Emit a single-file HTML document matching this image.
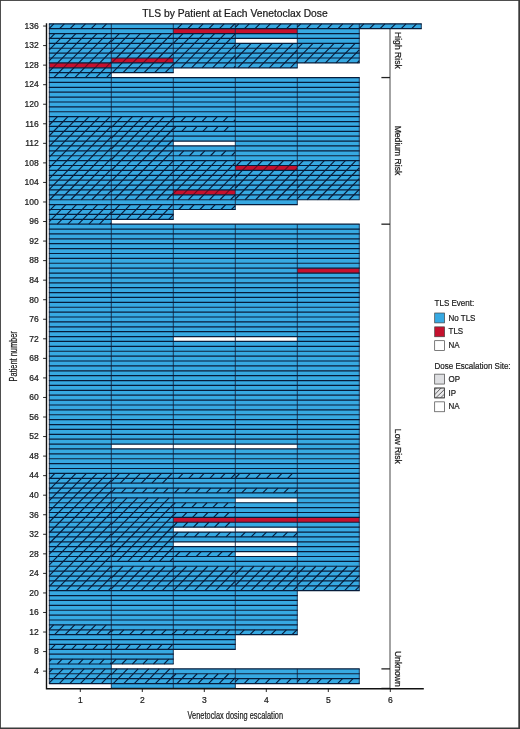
<!DOCTYPE html>
<html lang="en"><head><meta charset="utf-8"><title>TLS by Patient at Each Venetoclax Dose</title>
<style>html,body{margin:0;padding:0;background:#fff}body{width:520px;height:729px;overflow:hidden}svg{display:block}</style>
</head><body>
<svg width="520" height="729" viewBox="0 0 520 729" font-family="'Liberation Sans', Arial, sans-serif" fill="#1a1a1a">
<style>text{stroke:#1a1a1a;stroke-width:0.22px}</style>
<defs>
<pattern id="hl" patternUnits="userSpaceOnUse" width="4.6" height="4.6" x="1.2" y="0"><path d="M-1,5.6 L5.6,-1 M-1,1 L1,-1 M3.6,5.6 L5.6,3.6" stroke="#3a3a3a" stroke-width="0.8" fill="none"/></pattern>
</defs>
<rect x="0" y="0" width="520" height="729" fill="#fff"/>
<g stroke="#858585" stroke-width="1.5" fill="none">
<path d="M390,23.8 V688.43"/>
<path stroke="#222" stroke-width="1.3" d="M381.4,77.56 H390"/>
<path stroke="#222" stroke-width="1.3" d="M381.4,224.17 H390"/>
<path stroke="#222" stroke-width="1.3" d="M381.4,668.88 H390"/>
<path stroke="#222" stroke-width="1.3" d="M381.4,688.43 H390"/>
</g>
<g fill="#37a9e2">
<rect x="49.3" y="23.8" width="62" height="4.89"/>
<rect x="49.3" y="28.69" width="62" height="4.89"/>
<rect x="49.3" y="33.57" width="62" height="4.89"/>
<rect x="49.3" y="38.46" width="62" height="4.89"/>
<rect x="49.3" y="43.35" width="62" height="4.89"/>
<rect x="49.3" y="48.23" width="62" height="4.89"/>
<rect x="49.3" y="53.12" width="62" height="4.89"/>
<rect x="49.3" y="58.01" width="62" height="4.89"/>
<rect x="49.3" y="67.78" width="62" height="4.89"/>
<rect x="49.3" y="72.67" width="62" height="4.89"/>
<rect x="49.3" y="77.56" width="62" height="4.89"/>
<rect x="49.3" y="82.44" width="62" height="4.89"/>
<rect x="49.3" y="87.33" width="62" height="4.89"/>
<rect x="49.3" y="92.22" width="62" height="4.89"/>
<rect x="49.3" y="97.1" width="62" height="4.89"/>
<rect x="49.3" y="101.99" width="62" height="4.89"/>
<rect x="49.3" y="106.88" width="62" height="4.89"/>
<rect x="49.3" y="111.77" width="62" height="4.89"/>
<rect x="49.3" y="116.65" width="62" height="4.89"/>
<rect x="49.3" y="121.54" width="62" height="4.89"/>
<rect x="49.3" y="126.43" width="62" height="4.89"/>
<rect x="49.3" y="131.31" width="62" height="4.89"/>
<rect x="49.3" y="136.2" width="62" height="4.89"/>
<rect x="49.3" y="141.09" width="62" height="4.89"/>
<rect x="49.3" y="145.97" width="62" height="4.89"/>
<rect x="49.3" y="150.86" width="62" height="4.89"/>
<rect x="49.3" y="155.75" width="62" height="4.89"/>
<rect x="49.3" y="160.64" width="62" height="4.89"/>
<rect x="49.3" y="165.52" width="62" height="4.89"/>
<rect x="49.3" y="170.41" width="62" height="4.89"/>
<rect x="49.3" y="175.3" width="62" height="4.89"/>
<rect x="49.3" y="180.18" width="62" height="4.89"/>
<rect x="49.3" y="185.07" width="62" height="4.89"/>
<rect x="49.3" y="189.96" width="62" height="4.89"/>
<rect x="49.3" y="194.84" width="62" height="4.89"/>
<rect x="49.3" y="199.73" width="62" height="4.89"/>
<rect x="49.3" y="204.62" width="62" height="4.89"/>
<rect x="49.3" y="209.51" width="62" height="4.89"/>
<rect x="49.3" y="214.39" width="62" height="4.89"/>
<rect x="49.3" y="219.28" width="62" height="4.89"/>
<rect x="49.3" y="224.17" width="62" height="4.89"/>
<rect x="49.3" y="229.05" width="62" height="4.89"/>
<rect x="49.3" y="233.94" width="62" height="4.89"/>
<rect x="49.3" y="238.83" width="62" height="4.89"/>
<rect x="49.3" y="243.72" width="62" height="4.89"/>
<rect x="49.3" y="248.6" width="62" height="4.89"/>
<rect x="49.3" y="253.49" width="62" height="4.89"/>
<rect x="49.3" y="258.38" width="62" height="4.89"/>
<rect x="49.3" y="263.26" width="62" height="4.89"/>
<rect x="49.3" y="268.15" width="62" height="4.89"/>
<rect x="49.3" y="273.04" width="62" height="4.89"/>
<rect x="49.3" y="277.92" width="62" height="4.89"/>
<rect x="49.3" y="282.81" width="62" height="4.89"/>
<rect x="49.3" y="287.7" width="62" height="4.89"/>
<rect x="49.3" y="292.58" width="62" height="4.89"/>
<rect x="49.3" y="297.47" width="62" height="4.89"/>
<rect x="49.3" y="302.36" width="62" height="4.89"/>
<rect x="49.3" y="307.25" width="62" height="4.89"/>
<rect x="49.3" y="312.13" width="62" height="4.89"/>
<rect x="49.3" y="317.02" width="62" height="4.89"/>
<rect x="49.3" y="321.91" width="62" height="4.89"/>
<rect x="49.3" y="326.79" width="62" height="4.89"/>
<rect x="49.3" y="331.68" width="62" height="4.89"/>
<rect x="49.3" y="336.57" width="62" height="4.89"/>
<rect x="49.3" y="341.45" width="62" height="4.89"/>
<rect x="49.3" y="346.34" width="62" height="4.89"/>
<rect x="49.3" y="351.23" width="62" height="4.89"/>
<rect x="49.3" y="356.12" width="62" height="4.89"/>
<rect x="49.3" y="361" width="62" height="4.89"/>
<rect x="49.3" y="365.89" width="62" height="4.89"/>
<rect x="49.3" y="370.78" width="62" height="4.89"/>
<rect x="49.3" y="375.66" width="62" height="4.89"/>
<rect x="49.3" y="380.55" width="62" height="4.89"/>
<rect x="49.3" y="385.44" width="62" height="4.89"/>
<rect x="49.3" y="390.32" width="62" height="4.89"/>
<rect x="49.3" y="395.21" width="62" height="4.89"/>
<rect x="49.3" y="400.1" width="62" height="4.89"/>
<rect x="49.3" y="404.99" width="62" height="4.89"/>
<rect x="49.3" y="409.87" width="62" height="4.89"/>
<rect x="49.3" y="414.76" width="62" height="4.89"/>
<rect x="49.3" y="419.65" width="62" height="4.89"/>
<rect x="49.3" y="424.53" width="62" height="4.89"/>
<rect x="49.3" y="429.42" width="62" height="4.89"/>
<rect x="49.3" y="434.31" width="62" height="4.89"/>
<rect x="49.3" y="439.19" width="62" height="4.89"/>
<rect x="49.3" y="444.08" width="62" height="4.89"/>
<rect x="49.3" y="448.97" width="62" height="4.89"/>
<rect x="49.3" y="453.86" width="62" height="4.89"/>
<rect x="49.3" y="458.74" width="62" height="4.89"/>
<rect x="49.3" y="463.63" width="62" height="4.89"/>
<rect x="49.3" y="468.52" width="62" height="4.89"/>
<rect x="49.3" y="473.4" width="62" height="4.89"/>
<rect x="49.3" y="478.29" width="62" height="4.89"/>
<rect x="49.3" y="483.18" width="62" height="4.89"/>
<rect x="49.3" y="488.06" width="62" height="4.89"/>
<rect x="49.3" y="492.95" width="62" height="4.89"/>
<rect x="49.3" y="497.84" width="62" height="4.89"/>
<rect x="49.3" y="502.73" width="62" height="4.89"/>
<rect x="49.3" y="507.61" width="62" height="4.89"/>
<rect x="49.3" y="512.5" width="62" height="4.89"/>
<rect x="49.3" y="517.39" width="62" height="4.89"/>
<rect x="49.3" y="522.27" width="62" height="4.89"/>
<rect x="49.3" y="527.16" width="62" height="4.89"/>
<rect x="49.3" y="532.05" width="62" height="4.89"/>
<rect x="49.3" y="536.93" width="62" height="4.89"/>
<rect x="49.3" y="541.82" width="62" height="4.89"/>
<rect x="49.3" y="546.71" width="62" height="4.89"/>
<rect x="49.3" y="551.6" width="62" height="4.89"/>
<rect x="49.3" y="556.48" width="62" height="4.89"/>
<rect x="49.3" y="561.37" width="62" height="4.89"/>
<rect x="49.3" y="566.26" width="62" height="4.89"/>
<rect x="49.3" y="571.14" width="62" height="4.89"/>
<rect x="49.3" y="576.03" width="62" height="4.89"/>
<rect x="49.3" y="580.92" width="62" height="4.89"/>
<rect x="49.3" y="585.8" width="62" height="4.89"/>
<rect x="49.3" y="590.69" width="62" height="4.89"/>
<rect x="49.3" y="595.58" width="62" height="4.89"/>
<rect x="49.3" y="600.47" width="62" height="4.89"/>
<rect x="49.3" y="605.35" width="62" height="4.89"/>
<rect x="49.3" y="610.24" width="62" height="4.89"/>
<rect x="49.3" y="615.13" width="62" height="4.89"/>
<rect x="49.3" y="620.01" width="62" height="4.89"/>
<rect x="49.3" y="624.9" width="62" height="4.89"/>
<rect x="49.3" y="629.79" width="62" height="4.89"/>
<rect x="49.3" y="634.67" width="62" height="4.89"/>
<rect x="49.3" y="639.56" width="62" height="4.89"/>
<rect x="49.3" y="644.45" width="62" height="4.89"/>
<rect x="49.3" y="649.34" width="62" height="4.89"/>
<rect x="49.3" y="654.22" width="62" height="4.89"/>
<rect x="49.3" y="659.11" width="62" height="4.89"/>
<rect x="49.3" y="664" width="62" height="4.89"/>
<rect x="49.3" y="668.88" width="62" height="4.89"/>
<rect x="49.3" y="673.77" width="62" height="4.89"/>
<rect x="49.3" y="678.66" width="62" height="4.89"/>
</g>
<g fill="#c5112e">
<rect x="49.3" y="62.9" width="62" height="4.89"/>
</g>
<path d="M53.85,23.8L49.3,28.44M64.38,23.8L59.59,28.69M74.91,23.8L70.12,28.69M85.44,23.8L80.65,28.69M95.97,23.8L91.18,28.69M106.5,23.8L101.71,28.69M54.79,33.57L49.3,39.17M65.32,33.57L49.3,49.9M75.85,33.57L49.3,60.63M86.38,33.57L57.61,62.9M96.91,33.57L68.14,62.9M107.44,33.57L78.67,62.9M111.3,40.37L89.2,62.9M111.3,51.1L99.73,62.9M111.3,61.83L110.26,62.9M52.81,67.78L49.3,71.36M63.34,67.78L53.75,77.56M73.87,67.78L64.28,77.56M84.4,67.78L74.81,77.56M94.93,67.78L85.34,77.56M105.46,67.78L95.87,77.56M111.3,72.56L106.4,77.56M57.5,116.65L49.3,125.01M68.03,116.65L49.3,135.74M78.56,116.65L49.3,146.47M89.09,116.65L49.3,157.2M99.62,116.65L49.3,167.93M110.15,116.65L49.3,178.66M111.3,126.21L49.3,189.39M111.3,136.94L49.68,199.73M111.3,147.67L60.21,199.73M111.3,158.4L70.74,199.73M111.3,169.13L81.27,199.73M111.3,179.86L91.8,199.73M111.3,190.59L102.33,199.73M55.41,204.62L49.3,210.85M65.94,204.62L49.3,221.58M76.47,204.62L57.29,224.17M87,204.62L67.82,224.17M97.53,204.62L78.35,224.17M108.06,204.62L88.88,224.17M111.3,212.05L99.41,224.17M111.3,222.78L109.94,224.17M54.89,473.4L49.3,479.1M65.42,473.4L49.3,489.83M75.95,473.4L49.3,500.56M86.48,473.4L49.3,511.29M97.01,473.4L49.3,522.02M107.54,473.4L49.3,532.75M111.3,480.3L49.3,543.48M111.3,491.03L49.3,554.21M111.3,501.76L49.3,564.94M111.3,512.49L49.3,575.67M111.3,523.22L49.3,586.4M111.3,533.95L55.62,590.69M111.3,544.68L66.15,590.69M111.3,555.41L76.68,590.69M111.3,566.14L87.21,590.69M111.3,576.87L97.74,590.69M111.3,587.6L108.27,590.69M53.64,624.9L49.3,629.32M64.17,624.9L54.57,634.67M74.7,624.9L65.1,634.67M85.23,624.9L75.63,634.67M95.76,624.9L86.16,634.67M106.29,624.9L96.69,634.67M111.3,630.52L107.22,634.67M55.51,644.45L50.72,649.34M66.04,644.45L61.25,649.34M76.57,644.45L71.78,649.34M87.1,644.45L82.31,649.34M97.63,644.45L92.84,649.34M108.16,644.45L103.37,649.34M51.66,659.11L49.3,661.51M62.19,659.11L57.39,664M72.72,659.11L67.92,664M83.25,659.11L78.45,664M93.78,659.11L88.98,664M104.31,659.11L99.51,664M111.3,662.71L110.04,664M52.59,668.88L49.3,672.24M63.12,668.88L49.3,682.97M73.65,668.88L59.27,683.54M84.18,668.88L69.8,683.54M94.71,668.88L80.33,683.54M105.24,668.88L90.86,683.54M111.3,673.44L101.39,683.54" stroke="#061c3b" stroke-width="1.15" fill="none"/>
<path d="M57.61,62.9L52.81,67.78M68.14,62.9L63.34,67.78M78.67,62.9L73.87,67.78M89.2,62.9L84.4,67.78M99.73,62.9L94.93,67.78M110.26,62.9L105.46,67.78" stroke="#700a20" stroke-width="1.15" fill="none"/>
<g fill="#37a9e2">
<rect x="111.3" y="23.8" width="62" height="4.89"/>
<rect x="111.3" y="28.69" width="62" height="4.89"/>
<rect x="111.3" y="33.57" width="62" height="4.89"/>
<rect x="111.3" y="38.46" width="62" height="4.89"/>
<rect x="111.3" y="43.35" width="62" height="4.89"/>
<rect x="111.3" y="48.23" width="62" height="4.89"/>
<rect x="111.3" y="53.12" width="62" height="4.89"/>
<rect x="111.3" y="62.9" width="62" height="4.89"/>
<rect x="111.3" y="67.78" width="62" height="4.89"/>
<rect x="111.3" y="77.56" width="62" height="4.89"/>
<rect x="111.3" y="82.44" width="62" height="4.89"/>
<rect x="111.3" y="87.33" width="62" height="4.89"/>
<rect x="111.3" y="92.22" width="62" height="4.89"/>
<rect x="111.3" y="97.1" width="62" height="4.89"/>
<rect x="111.3" y="101.99" width="62" height="4.89"/>
<rect x="111.3" y="106.88" width="62" height="4.89"/>
<rect x="111.3" y="111.77" width="62" height="4.89"/>
<rect x="111.3" y="116.65" width="62" height="4.89"/>
<rect x="111.3" y="121.54" width="62" height="4.89"/>
<rect x="111.3" y="126.43" width="62" height="4.89"/>
<rect x="111.3" y="131.31" width="62" height="4.89"/>
<rect x="111.3" y="136.2" width="62" height="4.89"/>
<rect x="111.3" y="141.09" width="62" height="4.89"/>
<rect x="111.3" y="145.97" width="62" height="4.89"/>
<rect x="111.3" y="150.86" width="62" height="4.89"/>
<rect x="111.3" y="155.75" width="62" height="4.89"/>
<rect x="111.3" y="160.64" width="62" height="4.89"/>
<rect x="111.3" y="165.52" width="62" height="4.89"/>
<rect x="111.3" y="170.41" width="62" height="4.89"/>
<rect x="111.3" y="175.3" width="62" height="4.89"/>
<rect x="111.3" y="180.18" width="62" height="4.89"/>
<rect x="111.3" y="185.07" width="62" height="4.89"/>
<rect x="111.3" y="189.96" width="62" height="4.89"/>
<rect x="111.3" y="194.84" width="62" height="4.89"/>
<rect x="111.3" y="199.73" width="62" height="4.89"/>
<rect x="111.3" y="204.62" width="62" height="4.89"/>
<rect x="111.3" y="209.51" width="62" height="4.89"/>
<rect x="111.3" y="214.39" width="62" height="4.89"/>
<rect x="111.3" y="224.17" width="62" height="4.89"/>
<rect x="111.3" y="229.05" width="62" height="4.89"/>
<rect x="111.3" y="233.94" width="62" height="4.89"/>
<rect x="111.3" y="238.83" width="62" height="4.89"/>
<rect x="111.3" y="243.72" width="62" height="4.89"/>
<rect x="111.3" y="248.6" width="62" height="4.89"/>
<rect x="111.3" y="253.49" width="62" height="4.89"/>
<rect x="111.3" y="258.38" width="62" height="4.89"/>
<rect x="111.3" y="263.26" width="62" height="4.89"/>
<rect x="111.3" y="268.15" width="62" height="4.89"/>
<rect x="111.3" y="273.04" width="62" height="4.89"/>
<rect x="111.3" y="277.92" width="62" height="4.89"/>
<rect x="111.3" y="282.81" width="62" height="4.89"/>
<rect x="111.3" y="287.7" width="62" height="4.89"/>
<rect x="111.3" y="292.58" width="62" height="4.89"/>
<rect x="111.3" y="297.47" width="62" height="4.89"/>
<rect x="111.3" y="302.36" width="62" height="4.89"/>
<rect x="111.3" y="307.25" width="62" height="4.89"/>
<rect x="111.3" y="312.13" width="62" height="4.89"/>
<rect x="111.3" y="317.02" width="62" height="4.89"/>
<rect x="111.3" y="321.91" width="62" height="4.89"/>
<rect x="111.3" y="326.79" width="62" height="4.89"/>
<rect x="111.3" y="331.68" width="62" height="4.89"/>
<rect x="111.3" y="336.57" width="62" height="4.89"/>
<rect x="111.3" y="341.45" width="62" height="4.89"/>
<rect x="111.3" y="346.34" width="62" height="4.89"/>
<rect x="111.3" y="351.23" width="62" height="4.89"/>
<rect x="111.3" y="356.12" width="62" height="4.89"/>
<rect x="111.3" y="361" width="62" height="4.89"/>
<rect x="111.3" y="365.89" width="62" height="4.89"/>
<rect x="111.3" y="370.78" width="62" height="4.89"/>
<rect x="111.3" y="375.66" width="62" height="4.89"/>
<rect x="111.3" y="380.55" width="62" height="4.89"/>
<rect x="111.3" y="385.44" width="62" height="4.89"/>
<rect x="111.3" y="390.32" width="62" height="4.89"/>
<rect x="111.3" y="395.21" width="62" height="4.89"/>
<rect x="111.3" y="400.1" width="62" height="4.89"/>
<rect x="111.3" y="404.99" width="62" height="4.89"/>
<rect x="111.3" y="409.87" width="62" height="4.89"/>
<rect x="111.3" y="414.76" width="62" height="4.89"/>
<rect x="111.3" y="419.65" width="62" height="4.89"/>
<rect x="111.3" y="424.53" width="62" height="4.89"/>
<rect x="111.3" y="429.42" width="62" height="4.89"/>
<rect x="111.3" y="434.31" width="62" height="4.89"/>
<rect x="111.3" y="439.19" width="62" height="4.89"/>
<rect x="111.3" y="448.97" width="62" height="4.89"/>
<rect x="111.3" y="453.86" width="62" height="4.89"/>
<rect x="111.3" y="458.74" width="62" height="4.89"/>
<rect x="111.3" y="463.63" width="62" height="4.89"/>
<rect x="111.3" y="468.52" width="62" height="4.89"/>
<rect x="111.3" y="473.4" width="62" height="4.89"/>
<rect x="111.3" y="478.29" width="62" height="4.89"/>
<rect x="111.3" y="483.18" width="62" height="4.89"/>
<rect x="111.3" y="488.06" width="62" height="4.89"/>
<rect x="111.3" y="492.95" width="62" height="4.89"/>
<rect x="111.3" y="497.84" width="62" height="4.89"/>
<rect x="111.3" y="502.73" width="62" height="4.89"/>
<rect x="111.3" y="507.61" width="62" height="4.89"/>
<rect x="111.3" y="512.5" width="62" height="4.89"/>
<rect x="111.3" y="517.39" width="62" height="4.89"/>
<rect x="111.3" y="522.27" width="62" height="4.89"/>
<rect x="111.3" y="527.16" width="62" height="4.89"/>
<rect x="111.3" y="532.05" width="62" height="4.89"/>
<rect x="111.3" y="536.93" width="62" height="4.89"/>
<rect x="111.3" y="541.82" width="62" height="4.89"/>
<rect x="111.3" y="546.71" width="62" height="4.89"/>
<rect x="111.3" y="551.6" width="62" height="4.89"/>
<rect x="111.3" y="556.48" width="62" height="4.89"/>
<rect x="111.3" y="561.37" width="62" height="4.89"/>
<rect x="111.3" y="566.26" width="62" height="4.89"/>
<rect x="111.3" y="571.14" width="62" height="4.89"/>
<rect x="111.3" y="576.03" width="62" height="4.89"/>
<rect x="111.3" y="580.92" width="62" height="4.89"/>
<rect x="111.3" y="585.8" width="62" height="4.89"/>
<rect x="111.3" y="590.69" width="62" height="4.89"/>
<rect x="111.3" y="595.58" width="62" height="4.89"/>
<rect x="111.3" y="600.47" width="62" height="4.89"/>
<rect x="111.3" y="605.35" width="62" height="4.89"/>
<rect x="111.3" y="610.24" width="62" height="4.89"/>
<rect x="111.3" y="615.13" width="62" height="4.89"/>
<rect x="111.3" y="620.01" width="62" height="4.89"/>
<rect x="111.3" y="624.9" width="62" height="4.89"/>
<rect x="111.3" y="629.79" width="62" height="4.89"/>
<rect x="111.3" y="634.67" width="62" height="4.89"/>
<rect x="111.3" y="639.56" width="62" height="4.89"/>
<rect x="111.3" y="644.45" width="62" height="4.89"/>
<rect x="111.3" y="649.34" width="62" height="4.89"/>
<rect x="111.3" y="654.22" width="62" height="4.89"/>
<rect x="111.3" y="659.11" width="62" height="4.89"/>
<rect x="111.3" y="668.88" width="62" height="4.89"/>
<rect x="111.3" y="673.77" width="62" height="4.89"/>
<rect x="111.3" y="678.66" width="62" height="4.89"/>
<rect x="111.3" y="683.54" width="62" height="4.89"/>
</g>
<g fill="#c5112e">
<rect x="111.3" y="58.01" width="62" height="4.89"/>
</g>
<path d="M119.29,33.57L111.3,41.72M129.82,33.57L111.3,52.45M140.35,33.57L116.37,58.01M150.88,33.57L126.9,58.01M161.41,33.57L137.43,58.01M171.94,33.57L147.96,58.01M173.3,42.92L158.49,58.01M173.3,53.65L169.02,58.01M111.58,62.9L111.3,63.18M122.11,62.9L112.51,72.67M132.64,62.9L123.04,72.67M143.17,62.9L133.57,72.67M153.7,62.9L144.1,72.67M164.23,62.9L154.63,72.67M173.3,64.38L165.16,72.67M111.47,116.65L111.3,116.83M122,116.65L111.3,127.56M132.53,116.65L111.3,138.29M143.06,116.65L111.3,149.02M153.59,116.65L111.3,159.75M164.12,116.65L111.3,170.48M173.3,118.03L111.3,181.21M173.3,128.76L111.3,191.94M173.3,139.49L114.18,199.73M173.3,150.22L124.71,199.73M173.3,160.95L135.24,199.73M173.3,171.68L145.77,199.73M173.3,182.41L156.3,199.73M173.3,193.14L166.83,199.73M119.91,204.62L111.3,213.4M130.44,204.62L116.06,219.28M140.97,204.62L126.59,219.28M151.5,204.62L137.12,219.28M162.03,204.62L147.65,219.28M172.56,204.62L158.18,219.28M173.3,214.6L168.71,219.28M119.39,473.4L111.3,481.65M129.92,473.4L120.33,483.18M140.45,473.4L130.86,483.18M150.98,473.4L141.39,483.18M161.51,473.4L151.92,483.18M172.04,473.4L162.45,483.18M173.3,482.85L172.98,483.18M115.53,488.06L111.3,492.38M126.06,488.06L121.27,492.95M136.59,488.06L131.8,492.95M147.12,488.06L142.33,492.95M157.65,488.06L152.86,492.95M168.18,488.06L163.39,492.95M116.47,497.84L111.3,503.11M127,497.84L111.3,513.84M137.53,497.84L111.3,524.57M148.06,497.84L111.3,535.3M158.59,497.84L111.3,546.03M169.12,497.84L111.3,556.76M173.3,504.31L117.3,561.37M173.3,515.04L127.83,561.37M173.3,525.77L138.36,561.37M173.3,536.5L148.89,561.37M173.3,547.23L159.42,561.37M173.3,557.96L169.95,561.37M112.51,566.26L111.3,567.49M123.04,566.26L111.3,578.22M133.57,566.26L111.3,588.95M144.1,566.26L120.12,590.69M154.63,566.26L130.65,590.69M165.16,566.26L141.18,590.69M173.3,568.69L151.71,590.69M173.3,579.42L162.24,590.69M173.3,590.15L172.77,590.69M113.34,629.79L111.3,631.87M123.87,629.79L119.07,634.67M134.4,629.79L129.6,634.67M144.93,629.79L140.13,634.67M155.46,629.79L150.66,634.67M165.99,629.79L161.19,634.67M173.3,633.07L171.72,634.67M120.01,644.45L115.22,649.34M130.54,644.45L125.75,649.34M141.07,644.45L136.28,649.34M151.6,644.45L146.81,649.34M162.13,644.45L157.34,649.34M172.66,644.45L167.87,649.34M116.16,659.11L111.36,664M126.69,659.11L121.89,664M137.22,659.11L132.42,664M147.75,659.11L142.95,664M158.28,659.11L153.48,664M168.81,659.11L164.01,664M117.09,668.88L111.3,674.79M127.62,668.88L113.24,683.54M138.15,668.88L123.77,683.54M148.68,668.88L134.3,683.54M159.21,668.88L144.83,683.54M169.74,668.88L155.36,683.54M173.3,675.99L165.89,683.54" stroke="#061c3b" stroke-width="1.15" fill="none"/>
<path d="M116.37,58.01L111.58,62.9M126.9,58.01L122.11,62.9M137.43,58.01L132.64,62.9M147.96,58.01L143.17,62.9M158.49,58.01L153.7,62.9M169.02,58.01L164.23,62.9" stroke="#700a20" stroke-width="1.15" fill="none"/>
<g fill="#37a9e2">
<rect x="173.3" y="23.8" width="62" height="4.89"/>
<rect x="173.3" y="33.57" width="62" height="4.89"/>
<rect x="173.3" y="38.46" width="62" height="4.89"/>
<rect x="173.3" y="43.35" width="62" height="4.89"/>
<rect x="173.3" y="48.23" width="62" height="4.89"/>
<rect x="173.3" y="53.12" width="62" height="4.89"/>
<rect x="173.3" y="58.01" width="62" height="4.89"/>
<rect x="173.3" y="62.9" width="62" height="4.89"/>
<rect x="173.3" y="77.56" width="62" height="4.89"/>
<rect x="173.3" y="82.44" width="62" height="4.89"/>
<rect x="173.3" y="87.33" width="62" height="4.89"/>
<rect x="173.3" y="92.22" width="62" height="4.89"/>
<rect x="173.3" y="97.1" width="62" height="4.89"/>
<rect x="173.3" y="101.99" width="62" height="4.89"/>
<rect x="173.3" y="106.88" width="62" height="4.89"/>
<rect x="173.3" y="111.77" width="62" height="4.89"/>
<rect x="173.3" y="116.65" width="62" height="4.89"/>
<rect x="173.3" y="121.54" width="62" height="4.89"/>
<rect x="173.3" y="126.43" width="62" height="4.89"/>
<rect x="173.3" y="131.31" width="62" height="4.89"/>
<rect x="173.3" y="136.2" width="62" height="4.89"/>
<rect x="173.3" y="145.97" width="62" height="4.89"/>
<rect x="173.3" y="150.86" width="62" height="4.89"/>
<rect x="173.3" y="155.75" width="62" height="4.89"/>
<rect x="173.3" y="160.64" width="62" height="4.89"/>
<rect x="173.3" y="165.52" width="62" height="4.89"/>
<rect x="173.3" y="170.41" width="62" height="4.89"/>
<rect x="173.3" y="175.3" width="62" height="4.89"/>
<rect x="173.3" y="180.18" width="62" height="4.89"/>
<rect x="173.3" y="185.07" width="62" height="4.89"/>
<rect x="173.3" y="194.84" width="62" height="4.89"/>
<rect x="173.3" y="199.73" width="62" height="4.89"/>
<rect x="173.3" y="204.62" width="62" height="4.89"/>
<rect x="173.3" y="224.17" width="62" height="4.89"/>
<rect x="173.3" y="229.05" width="62" height="4.89"/>
<rect x="173.3" y="233.94" width="62" height="4.89"/>
<rect x="173.3" y="238.83" width="62" height="4.89"/>
<rect x="173.3" y="243.72" width="62" height="4.89"/>
<rect x="173.3" y="248.6" width="62" height="4.89"/>
<rect x="173.3" y="253.49" width="62" height="4.89"/>
<rect x="173.3" y="258.38" width="62" height="4.89"/>
<rect x="173.3" y="263.26" width="62" height="4.89"/>
<rect x="173.3" y="268.15" width="62" height="4.89"/>
<rect x="173.3" y="273.04" width="62" height="4.89"/>
<rect x="173.3" y="277.92" width="62" height="4.89"/>
<rect x="173.3" y="282.81" width="62" height="4.89"/>
<rect x="173.3" y="287.7" width="62" height="4.89"/>
<rect x="173.3" y="292.58" width="62" height="4.89"/>
<rect x="173.3" y="297.47" width="62" height="4.89"/>
<rect x="173.3" y="302.36" width="62" height="4.89"/>
<rect x="173.3" y="307.25" width="62" height="4.89"/>
<rect x="173.3" y="312.13" width="62" height="4.89"/>
<rect x="173.3" y="317.02" width="62" height="4.89"/>
<rect x="173.3" y="321.91" width="62" height="4.89"/>
<rect x="173.3" y="326.79" width="62" height="4.89"/>
<rect x="173.3" y="331.68" width="62" height="4.89"/>
<rect x="173.3" y="341.45" width="62" height="4.89"/>
<rect x="173.3" y="346.34" width="62" height="4.89"/>
<rect x="173.3" y="351.23" width="62" height="4.89"/>
<rect x="173.3" y="356.12" width="62" height="4.89"/>
<rect x="173.3" y="361" width="62" height="4.89"/>
<rect x="173.3" y="365.89" width="62" height="4.89"/>
<rect x="173.3" y="370.78" width="62" height="4.89"/>
<rect x="173.3" y="375.66" width="62" height="4.89"/>
<rect x="173.3" y="380.55" width="62" height="4.89"/>
<rect x="173.3" y="385.44" width="62" height="4.89"/>
<rect x="173.3" y="390.32" width="62" height="4.89"/>
<rect x="173.3" y="395.21" width="62" height="4.89"/>
<rect x="173.3" y="400.1" width="62" height="4.89"/>
<rect x="173.3" y="404.99" width="62" height="4.89"/>
<rect x="173.3" y="409.87" width="62" height="4.89"/>
<rect x="173.3" y="414.76" width="62" height="4.89"/>
<rect x="173.3" y="419.65" width="62" height="4.89"/>
<rect x="173.3" y="424.53" width="62" height="4.89"/>
<rect x="173.3" y="429.42" width="62" height="4.89"/>
<rect x="173.3" y="434.31" width="62" height="4.89"/>
<rect x="173.3" y="439.19" width="62" height="4.89"/>
<rect x="173.3" y="448.97" width="62" height="4.89"/>
<rect x="173.3" y="453.86" width="62" height="4.89"/>
<rect x="173.3" y="458.74" width="62" height="4.89"/>
<rect x="173.3" y="463.63" width="62" height="4.89"/>
<rect x="173.3" y="468.52" width="62" height="4.89"/>
<rect x="173.3" y="473.4" width="62" height="4.89"/>
<rect x="173.3" y="478.29" width="62" height="4.89"/>
<rect x="173.3" y="483.18" width="62" height="4.89"/>
<rect x="173.3" y="488.06" width="62" height="4.89"/>
<rect x="173.3" y="492.95" width="62" height="4.89"/>
<rect x="173.3" y="497.84" width="62" height="4.89"/>
<rect x="173.3" y="502.73" width="62" height="4.89"/>
<rect x="173.3" y="507.61" width="62" height="4.89"/>
<rect x="173.3" y="512.5" width="62" height="4.89"/>
<rect x="173.3" y="522.27" width="62" height="4.89"/>
<rect x="173.3" y="532.05" width="62" height="4.89"/>
<rect x="173.3" y="536.93" width="62" height="4.89"/>
<rect x="173.3" y="546.71" width="62" height="4.89"/>
<rect x="173.3" y="551.6" width="62" height="4.89"/>
<rect x="173.3" y="556.48" width="62" height="4.89"/>
<rect x="173.3" y="561.37" width="62" height="4.89"/>
<rect x="173.3" y="566.26" width="62" height="4.89"/>
<rect x="173.3" y="571.14" width="62" height="4.89"/>
<rect x="173.3" y="576.03" width="62" height="4.89"/>
<rect x="173.3" y="580.92" width="62" height="4.89"/>
<rect x="173.3" y="585.8" width="62" height="4.89"/>
<rect x="173.3" y="590.69" width="62" height="4.89"/>
<rect x="173.3" y="595.58" width="62" height="4.89"/>
<rect x="173.3" y="600.47" width="62" height="4.89"/>
<rect x="173.3" y="605.35" width="62" height="4.89"/>
<rect x="173.3" y="610.24" width="62" height="4.89"/>
<rect x="173.3" y="615.13" width="62" height="4.89"/>
<rect x="173.3" y="620.01" width="62" height="4.89"/>
<rect x="173.3" y="624.9" width="62" height="4.89"/>
<rect x="173.3" y="629.79" width="62" height="4.89"/>
<rect x="173.3" y="634.67" width="62" height="4.89"/>
<rect x="173.3" y="639.56" width="62" height="4.89"/>
<rect x="173.3" y="644.45" width="62" height="4.89"/>
<rect x="173.3" y="668.88" width="62" height="4.89"/>
<rect x="173.3" y="673.77" width="62" height="4.89"/>
<rect x="173.3" y="678.66" width="62" height="4.89"/>
<rect x="173.3" y="683.54" width="62" height="4.89"/>
</g>
<g fill="#c5112e">
<rect x="173.3" y="28.69" width="62" height="4.89"/>
<rect x="173.3" y="189.96" width="62" height="4.89"/>
<rect x="173.3" y="517.39" width="62" height="4.89"/>
</g>
<path d="M182.05,23.8L177.26,28.69M192.58,23.8L187.79,28.69M203.11,23.8L198.32,28.69M213.64,23.8L208.85,28.69M224.17,23.8L219.38,28.69M234.7,23.8L229.91,28.69M182.99,33.57L173.3,43.45M193.52,33.57L173.3,54.18M204.05,33.57L173.3,64.91M214.58,33.57L181.01,67.78M225.11,33.57L191.54,67.78M235.3,33.92L202.07,67.78M235.3,44.65L212.6,67.78M235.3,55.38L223.13,67.78M235.3,66.11L233.66,67.78M175.17,116.65L173.3,118.56M185.7,116.65L180.91,121.54M196.23,116.65L191.44,121.54M206.76,116.65L201.97,121.54M217.29,116.65L212.5,121.54M227.82,116.65L223.03,121.54M235.3,119.76L233.56,121.54M176.11,126.43L173.3,129.29M186.64,126.43L181.84,131.31M197.17,126.43L192.37,131.31M207.7,126.43L202.9,131.31M218.23,126.43L213.43,131.31M228.76,126.43L223.96,131.31M235.3,130.49L234.49,131.31M183.72,150.86L178.92,155.75M194.25,150.86L189.45,155.75M204.78,150.86L199.98,155.75M215.31,150.86L210.51,155.75M225.84,150.86L221.04,155.75M235.3,151.95L231.57,155.75M174.13,160.64L173.3,161.48M184.66,160.64L173.3,172.21M195.19,160.64L173.3,182.94M205.72,160.64L176.94,189.96M216.25,160.64L187.47,189.96M226.78,160.64L198,189.96M235.3,162.68L208.53,189.96M235.3,173.41L219.06,189.96M235.3,184.14L229.59,189.96M182.68,194.84L177.88,199.73M193.21,194.84L188.41,199.73M203.74,194.84L198.94,199.73M214.27,194.84L209.47,199.73M224.8,194.84L220,199.73M235.3,194.87L230.53,199.73M183.61,204.62L178.82,209.51M194.14,204.62L189.35,209.51M204.67,204.62L199.88,209.51M215.2,204.62L210.41,209.51M225.73,204.62L220.94,209.51M235.3,205.6L231.47,209.51M183.09,473.4L178.29,478.29M193.62,473.4L188.82,478.29M204.15,473.4L199.35,478.29M214.68,473.4L209.88,478.29M225.21,473.4L220.41,478.29M235.3,473.85L230.94,478.29M179.23,488.06L174.44,492.95M189.76,488.06L184.97,492.95M200.29,488.06L195.5,492.95M210.82,488.06L206.03,492.95M221.35,488.06L216.56,492.95M231.88,488.06L227.09,492.95M175.37,502.73L173.3,504.84M185.9,502.73L181.11,507.61M196.43,502.73L191.64,507.61M206.96,502.73L202.17,507.61M217.49,502.73L212.7,507.61M228.02,502.73L223.23,507.61M235.3,506.04L233.76,507.61M176.31,512.5L173.3,515.57M186.84,512.5L182.05,517.39M197.37,512.5L192.58,517.39M207.9,512.5L203.11,517.39M218.43,512.5L213.64,517.39M228.96,512.5L224.17,517.39M235.3,516.77L234.7,517.39M177.25,522.27L173.3,526.3M187.78,522.27L182.98,527.16M198.31,522.27L193.51,527.16M208.84,522.27L204.04,527.16M219.37,522.27L214.57,527.16M229.9,522.27L225.1,527.16M178.19,532.05L173.39,536.93M188.72,532.05L183.92,536.93M199.25,532.05L194.45,536.93M209.78,532.05L204.98,536.93M220.31,532.05L215.51,536.93M230.84,532.05L226.04,536.93M180.07,551.6L175.27,556.48M190.6,551.6L185.8,556.48M201.13,551.6L196.33,556.48M211.66,551.6L206.86,556.48M222.19,551.6L217.39,556.48M232.72,551.6L227.92,556.48M176.21,566.26L173.3,569.22M186.74,566.26L173.3,579.95M197.27,566.26L173.3,590.68M207.8,566.26L183.82,590.69M218.33,566.26L194.35,590.69M228.86,566.26L204.88,590.69M235.3,570.42L215.41,590.69M235.3,581.15L225.94,590.69M177.04,629.79L173.3,633.6M187.57,629.79L182.77,634.67M198.1,629.79L193.3,634.67M208.63,629.79L203.83,634.67M219.16,629.79L214.36,634.67M229.69,629.79L224.89,634.67M176,673.77L173.3,676.52M186.53,673.77L176.94,683.54M197.06,673.77L187.47,683.54M207.59,673.77L198,683.54M218.12,673.77L208.53,683.54M228.65,673.77L219.06,683.54M235.3,677.72L229.59,683.54" stroke="#061c3b" stroke-width="1.15" fill="none"/>
<path d="M176.94,189.96L173.3,193.67M187.47,189.96L182.68,194.84M198,189.96L193.21,194.84M208.53,189.96L203.74,194.84M219.06,189.96L214.27,194.84M229.59,189.96L224.8,194.84" stroke="#700a20" stroke-width="1.15" fill="none"/>
<g fill="#37a9e2">
<rect x="235.3" y="23.8" width="62" height="4.89"/>
<rect x="235.3" y="33.57" width="62" height="4.89"/>
<rect x="235.3" y="43.35" width="62" height="4.89"/>
<rect x="235.3" y="48.23" width="62" height="4.89"/>
<rect x="235.3" y="53.12" width="62" height="4.89"/>
<rect x="235.3" y="58.01" width="62" height="4.89"/>
<rect x="235.3" y="62.9" width="62" height="4.89"/>
<rect x="235.3" y="77.56" width="62" height="4.89"/>
<rect x="235.3" y="82.44" width="62" height="4.89"/>
<rect x="235.3" y="87.33" width="62" height="4.89"/>
<rect x="235.3" y="92.22" width="62" height="4.89"/>
<rect x="235.3" y="97.1" width="62" height="4.89"/>
<rect x="235.3" y="101.99" width="62" height="4.89"/>
<rect x="235.3" y="106.88" width="62" height="4.89"/>
<rect x="235.3" y="111.77" width="62" height="4.89"/>
<rect x="235.3" y="116.65" width="62" height="4.89"/>
<rect x="235.3" y="121.54" width="62" height="4.89"/>
<rect x="235.3" y="126.43" width="62" height="4.89"/>
<rect x="235.3" y="131.31" width="62" height="4.89"/>
<rect x="235.3" y="136.2" width="62" height="4.89"/>
<rect x="235.3" y="141.09" width="62" height="4.89"/>
<rect x="235.3" y="145.97" width="62" height="4.89"/>
<rect x="235.3" y="150.86" width="62" height="4.89"/>
<rect x="235.3" y="155.75" width="62" height="4.89"/>
<rect x="235.3" y="160.64" width="62" height="4.89"/>
<rect x="235.3" y="170.41" width="62" height="4.89"/>
<rect x="235.3" y="175.3" width="62" height="4.89"/>
<rect x="235.3" y="180.18" width="62" height="4.89"/>
<rect x="235.3" y="185.07" width="62" height="4.89"/>
<rect x="235.3" y="189.96" width="62" height="4.89"/>
<rect x="235.3" y="194.84" width="62" height="4.89"/>
<rect x="235.3" y="199.73" width="62" height="4.89"/>
<rect x="235.3" y="224.17" width="62" height="4.89"/>
<rect x="235.3" y="229.05" width="62" height="4.89"/>
<rect x="235.3" y="233.94" width="62" height="4.89"/>
<rect x="235.3" y="238.83" width="62" height="4.89"/>
<rect x="235.3" y="243.72" width="62" height="4.89"/>
<rect x="235.3" y="248.6" width="62" height="4.89"/>
<rect x="235.3" y="253.49" width="62" height="4.89"/>
<rect x="235.3" y="258.38" width="62" height="4.89"/>
<rect x="235.3" y="263.26" width="62" height="4.89"/>
<rect x="235.3" y="268.15" width="62" height="4.89"/>
<rect x="235.3" y="273.04" width="62" height="4.89"/>
<rect x="235.3" y="277.92" width="62" height="4.89"/>
<rect x="235.3" y="282.81" width="62" height="4.89"/>
<rect x="235.3" y="287.7" width="62" height="4.89"/>
<rect x="235.3" y="292.58" width="62" height="4.89"/>
<rect x="235.3" y="297.47" width="62" height="4.89"/>
<rect x="235.3" y="302.36" width="62" height="4.89"/>
<rect x="235.3" y="307.25" width="62" height="4.89"/>
<rect x="235.3" y="312.13" width="62" height="4.89"/>
<rect x="235.3" y="317.02" width="62" height="4.89"/>
<rect x="235.3" y="321.91" width="62" height="4.89"/>
<rect x="235.3" y="326.79" width="62" height="4.89"/>
<rect x="235.3" y="331.68" width="62" height="4.89"/>
<rect x="235.3" y="341.45" width="62" height="4.89"/>
<rect x="235.3" y="346.34" width="62" height="4.89"/>
<rect x="235.3" y="351.23" width="62" height="4.89"/>
<rect x="235.3" y="356.12" width="62" height="4.89"/>
<rect x="235.3" y="361" width="62" height="4.89"/>
<rect x="235.3" y="365.89" width="62" height="4.89"/>
<rect x="235.3" y="370.78" width="62" height="4.89"/>
<rect x="235.3" y="375.66" width="62" height="4.89"/>
<rect x="235.3" y="380.55" width="62" height="4.89"/>
<rect x="235.3" y="385.44" width="62" height="4.89"/>
<rect x="235.3" y="390.32" width="62" height="4.89"/>
<rect x="235.3" y="395.21" width="62" height="4.89"/>
<rect x="235.3" y="400.1" width="62" height="4.89"/>
<rect x="235.3" y="404.99" width="62" height="4.89"/>
<rect x="235.3" y="409.87" width="62" height="4.89"/>
<rect x="235.3" y="414.76" width="62" height="4.89"/>
<rect x="235.3" y="419.65" width="62" height="4.89"/>
<rect x="235.3" y="424.53" width="62" height="4.89"/>
<rect x="235.3" y="429.42" width="62" height="4.89"/>
<rect x="235.3" y="434.31" width="62" height="4.89"/>
<rect x="235.3" y="439.19" width="62" height="4.89"/>
<rect x="235.3" y="448.97" width="62" height="4.89"/>
<rect x="235.3" y="453.86" width="62" height="4.89"/>
<rect x="235.3" y="458.74" width="62" height="4.89"/>
<rect x="235.3" y="463.63" width="62" height="4.89"/>
<rect x="235.3" y="468.52" width="62" height="4.89"/>
<rect x="235.3" y="473.4" width="62" height="4.89"/>
<rect x="235.3" y="478.29" width="62" height="4.89"/>
<rect x="235.3" y="483.18" width="62" height="4.89"/>
<rect x="235.3" y="488.06" width="62" height="4.89"/>
<rect x="235.3" y="492.95" width="62" height="4.89"/>
<rect x="235.3" y="502.73" width="62" height="4.89"/>
<rect x="235.3" y="507.61" width="62" height="4.89"/>
<rect x="235.3" y="512.5" width="62" height="4.89"/>
<rect x="235.3" y="522.27" width="62" height="4.89"/>
<rect x="235.3" y="532.05" width="62" height="4.89"/>
<rect x="235.3" y="536.93" width="62" height="4.89"/>
<rect x="235.3" y="546.71" width="62" height="4.89"/>
<rect x="235.3" y="556.48" width="62" height="4.89"/>
<rect x="235.3" y="561.37" width="62" height="4.89"/>
<rect x="235.3" y="566.26" width="62" height="4.89"/>
<rect x="235.3" y="571.14" width="62" height="4.89"/>
<rect x="235.3" y="576.03" width="62" height="4.89"/>
<rect x="235.3" y="580.92" width="62" height="4.89"/>
<rect x="235.3" y="585.8" width="62" height="4.89"/>
<rect x="235.3" y="590.69" width="62" height="4.89"/>
<rect x="235.3" y="595.58" width="62" height="4.89"/>
<rect x="235.3" y="600.47" width="62" height="4.89"/>
<rect x="235.3" y="605.35" width="62" height="4.89"/>
<rect x="235.3" y="610.24" width="62" height="4.89"/>
<rect x="235.3" y="615.13" width="62" height="4.89"/>
<rect x="235.3" y="620.01" width="62" height="4.89"/>
<rect x="235.3" y="624.9" width="62" height="4.89"/>
<rect x="235.3" y="629.79" width="62" height="4.89"/>
<rect x="235.3" y="668.88" width="62" height="4.89"/>
<rect x="235.3" y="673.77" width="62" height="4.89"/>
<rect x="235.3" y="678.66" width="62" height="4.89"/>
</g>
<g fill="#c5112e">
<rect x="235.3" y="28.69" width="62" height="4.89"/>
<rect x="235.3" y="165.52" width="62" height="4.89"/>
<rect x="235.3" y="517.39" width="62" height="4.89"/>
</g>
<path d="M238.75,23.8L235.3,27.32M249.28,23.8L244.49,28.69M259.81,23.8L255.02,28.69M270.34,23.8L265.55,28.69M280.87,23.8L276.08,28.69M291.4,23.8L286.61,28.69M297.3,28.52L297.14,28.69M240.63,43.35L235.3,48.78M251.16,43.35L235.3,59.51M261.69,43.35L237.71,67.78M272.22,43.35L248.24,67.78M282.75,43.35L258.77,67.78M293.28,43.35L269.3,67.78M297.3,49.98L279.83,67.78M297.3,60.71L290.36,67.78M241.36,160.64L236.56,165.52M251.89,160.64L247.09,165.52M262.42,160.64L257.62,165.52M272.95,160.64L268.15,165.52M283.48,160.64L278.68,165.52M294.01,160.64L289.21,165.52M242.3,170.41L235.3,177.54M252.83,170.41L235.3,188.27M263.36,170.41L235.3,199M273.89,170.41L245.11,199.73M284.42,170.41L255.64,199.73M294.95,170.41L266.17,199.73M297.3,178.74L276.7,199.73M297.3,189.47L287.23,199.73M239.79,473.4L235.3,477.98M250.32,473.4L245.52,478.29M260.85,473.4L256.05,478.29M271.38,473.4L266.58,478.29M281.91,473.4L277.11,478.29M292.44,473.4L287.64,478.29M235.93,488.06L235.3,488.71M246.46,488.06L241.67,492.95M256.99,488.06L252.2,492.95M267.52,488.06L262.73,492.95M278.05,488.06L273.26,492.95M288.58,488.06L283.79,492.95M297.3,489.91L294.32,492.95M245.42,532.05L240.62,536.93M255.95,532.05L251.15,536.93M266.48,532.05L261.68,536.93M277.01,532.05L272.21,536.93M287.54,532.05L282.74,536.93M297.3,532.83L293.27,536.93M243.44,566.26L235.3,574.55M253.97,566.26L235.3,585.28M264.5,566.26L240.52,590.69M275.03,566.26L251.05,590.69M285.56,566.26L261.58,590.69M296.09,566.26L272.11,590.69M297.3,575.75L282.64,590.69M297.3,586.48L293.17,590.69M244.27,629.79L239.47,634.67M254.8,629.79L250,634.67M265.33,629.79L260.53,634.67M275.86,629.79L271.06,634.67M286.39,629.79L281.59,634.67M296.92,629.79L292.12,634.67M238.43,678.66L235.3,681.85M248.96,678.66L244.17,683.54M259.49,678.66L254.7,683.54M270.02,678.66L265.23,683.54M280.55,678.66L275.76,683.54M291.08,678.66L286.29,683.54M297.3,683.05L296.82,683.54" stroke="#061c3b" stroke-width="1.15" fill="none"/>
<path d="M236.56,165.52L235.3,166.81M247.09,165.52L242.3,170.41M257.62,165.52L252.83,170.41M268.15,165.52L263.36,170.41M278.68,165.52L273.89,170.41M289.21,165.52L284.42,170.41M297.3,168.01L294.95,170.41" stroke="#700a20" stroke-width="1.15" fill="none"/>
<g fill="#37a9e2">
<rect x="297.3" y="23.8" width="62" height="4.89"/>
<rect x="297.3" y="28.69" width="62" height="4.89"/>
<rect x="297.3" y="33.57" width="62" height="4.89"/>
<rect x="297.3" y="38.46" width="62" height="4.89"/>
<rect x="297.3" y="43.35" width="62" height="4.89"/>
<rect x="297.3" y="48.23" width="62" height="4.89"/>
<rect x="297.3" y="53.12" width="62" height="4.89"/>
<rect x="297.3" y="58.01" width="62" height="4.89"/>
<rect x="297.3" y="77.56" width="62" height="4.89"/>
<rect x="297.3" y="82.44" width="62" height="4.89"/>
<rect x="297.3" y="87.33" width="62" height="4.89"/>
<rect x="297.3" y="92.22" width="62" height="4.89"/>
<rect x="297.3" y="97.1" width="62" height="4.89"/>
<rect x="297.3" y="101.99" width="62" height="4.89"/>
<rect x="297.3" y="106.88" width="62" height="4.89"/>
<rect x="297.3" y="111.77" width="62" height="4.89"/>
<rect x="297.3" y="116.65" width="62" height="4.89"/>
<rect x="297.3" y="121.54" width="62" height="4.89"/>
<rect x="297.3" y="126.43" width="62" height="4.89"/>
<rect x="297.3" y="131.31" width="62" height="4.89"/>
<rect x="297.3" y="136.2" width="62" height="4.89"/>
<rect x="297.3" y="141.09" width="62" height="4.89"/>
<rect x="297.3" y="145.97" width="62" height="4.89"/>
<rect x="297.3" y="150.86" width="62" height="4.89"/>
<rect x="297.3" y="155.75" width="62" height="4.89"/>
<rect x="297.3" y="160.64" width="62" height="4.89"/>
<rect x="297.3" y="165.52" width="62" height="4.89"/>
<rect x="297.3" y="170.41" width="62" height="4.89"/>
<rect x="297.3" y="175.3" width="62" height="4.89"/>
<rect x="297.3" y="180.18" width="62" height="4.89"/>
<rect x="297.3" y="185.07" width="62" height="4.89"/>
<rect x="297.3" y="189.96" width="62" height="4.89"/>
<rect x="297.3" y="194.84" width="62" height="4.89"/>
<rect x="297.3" y="224.17" width="62" height="4.89"/>
<rect x="297.3" y="229.05" width="62" height="4.89"/>
<rect x="297.3" y="233.94" width="62" height="4.89"/>
<rect x="297.3" y="238.83" width="62" height="4.89"/>
<rect x="297.3" y="243.72" width="62" height="4.89"/>
<rect x="297.3" y="248.6" width="62" height="4.89"/>
<rect x="297.3" y="253.49" width="62" height="4.89"/>
<rect x="297.3" y="258.38" width="62" height="4.89"/>
<rect x="297.3" y="263.26" width="62" height="4.89"/>
<rect x="297.3" y="273.04" width="62" height="4.89"/>
<rect x="297.3" y="277.92" width="62" height="4.89"/>
<rect x="297.3" y="282.81" width="62" height="4.89"/>
<rect x="297.3" y="287.7" width="62" height="4.89"/>
<rect x="297.3" y="292.58" width="62" height="4.89"/>
<rect x="297.3" y="297.47" width="62" height="4.89"/>
<rect x="297.3" y="302.36" width="62" height="4.89"/>
<rect x="297.3" y="307.25" width="62" height="4.89"/>
<rect x="297.3" y="312.13" width="62" height="4.89"/>
<rect x="297.3" y="317.02" width="62" height="4.89"/>
<rect x="297.3" y="321.91" width="62" height="4.89"/>
<rect x="297.3" y="326.79" width="62" height="4.89"/>
<rect x="297.3" y="331.68" width="62" height="4.89"/>
<rect x="297.3" y="336.57" width="62" height="4.89"/>
<rect x="297.3" y="341.45" width="62" height="4.89"/>
<rect x="297.3" y="346.34" width="62" height="4.89"/>
<rect x="297.3" y="351.23" width="62" height="4.89"/>
<rect x="297.3" y="356.12" width="62" height="4.89"/>
<rect x="297.3" y="361" width="62" height="4.89"/>
<rect x="297.3" y="365.89" width="62" height="4.89"/>
<rect x="297.3" y="370.78" width="62" height="4.89"/>
<rect x="297.3" y="375.66" width="62" height="4.89"/>
<rect x="297.3" y="380.55" width="62" height="4.89"/>
<rect x="297.3" y="385.44" width="62" height="4.89"/>
<rect x="297.3" y="390.32" width="62" height="4.89"/>
<rect x="297.3" y="395.21" width="62" height="4.89"/>
<rect x="297.3" y="400.1" width="62" height="4.89"/>
<rect x="297.3" y="404.99" width="62" height="4.89"/>
<rect x="297.3" y="409.87" width="62" height="4.89"/>
<rect x="297.3" y="414.76" width="62" height="4.89"/>
<rect x="297.3" y="419.65" width="62" height="4.89"/>
<rect x="297.3" y="424.53" width="62" height="4.89"/>
<rect x="297.3" y="429.42" width="62" height="4.89"/>
<rect x="297.3" y="434.31" width="62" height="4.89"/>
<rect x="297.3" y="439.19" width="62" height="4.89"/>
<rect x="297.3" y="444.08" width="62" height="4.89"/>
<rect x="297.3" y="448.97" width="62" height="4.89"/>
<rect x="297.3" y="453.86" width="62" height="4.89"/>
<rect x="297.3" y="458.74" width="62" height="4.89"/>
<rect x="297.3" y="463.63" width="62" height="4.89"/>
<rect x="297.3" y="468.52" width="62" height="4.89"/>
<rect x="297.3" y="473.4" width="62" height="4.89"/>
<rect x="297.3" y="478.29" width="62" height="4.89"/>
<rect x="297.3" y="483.18" width="62" height="4.89"/>
<rect x="297.3" y="488.06" width="62" height="4.89"/>
<rect x="297.3" y="492.95" width="62" height="4.89"/>
<rect x="297.3" y="497.84" width="62" height="4.89"/>
<rect x="297.3" y="502.73" width="62" height="4.89"/>
<rect x="297.3" y="507.61" width="62" height="4.89"/>
<rect x="297.3" y="512.5" width="62" height="4.89"/>
<rect x="297.3" y="522.27" width="62" height="4.89"/>
<rect x="297.3" y="527.16" width="62" height="4.89"/>
<rect x="297.3" y="532.05" width="62" height="4.89"/>
<rect x="297.3" y="536.93" width="62" height="4.89"/>
<rect x="297.3" y="541.82" width="62" height="4.89"/>
<rect x="297.3" y="546.71" width="62" height="4.89"/>
<rect x="297.3" y="551.6" width="62" height="4.89"/>
<rect x="297.3" y="556.48" width="62" height="4.89"/>
<rect x="297.3" y="561.37" width="62" height="4.89"/>
<rect x="297.3" y="566.26" width="62" height="4.89"/>
<rect x="297.3" y="571.14" width="62" height="4.89"/>
<rect x="297.3" y="576.03" width="62" height="4.89"/>
<rect x="297.3" y="580.92" width="62" height="4.89"/>
<rect x="297.3" y="585.8" width="62" height="4.89"/>
<rect x="297.3" y="668.88" width="62" height="4.89"/>
<rect x="297.3" y="673.77" width="62" height="4.89"/>
<rect x="297.3" y="678.66" width="62" height="4.89"/>
</g>
<g fill="#c5112e">
<rect x="297.3" y="268.15" width="62" height="4.89"/>
<rect x="297.3" y="517.39" width="62" height="4.89"/>
</g>
<path d="M300.65,23.8L297.3,27.22M311.18,23.8L306.39,28.69M321.71,23.8L316.92,28.69M332.24,23.8L327.45,28.69M342.77,23.8L337.98,28.69M353.3,23.8L348.51,28.69M359.3,28.42L359.04,28.69M302.53,43.35L297.3,48.68M313.06,43.35L297.3,59.41M323.59,43.35L304.41,62.9M334.12,43.35L314.94,62.9M344.65,43.35L325.47,62.9M355.18,43.35L336,62.9M359.3,49.88L346.53,62.9M359.3,60.61L357.06,62.9M303.26,160.64L297.3,166.71M313.79,160.64L297.3,177.44M324.32,160.64L297.3,188.17M334.85,160.64L297.3,198.9M345.38,160.64L307.01,199.73M355.91,160.64L317.54,199.73M359.3,167.91L328.07,199.73M359.3,178.64L338.6,199.73M359.3,189.37L349.13,199.73M305.34,566.26L297.3,574.45M315.87,566.26L297.3,585.18M326.4,566.26L302.42,590.69M336.93,566.26L312.95,590.69M347.46,566.26L323.48,590.69M357.99,566.26L334.01,590.69M359.3,575.65L344.54,590.69M359.3,586.38L355.07,590.69M300.33,678.66L297.3,681.75M310.86,678.66L306.07,683.54M321.39,678.66L316.6,683.54M331.92,678.66L327.13,683.54M342.45,678.66L337.66,683.54M352.98,678.66L348.19,683.54M359.3,682.95L358.72,683.54" stroke="#061c3b" stroke-width="1.15" fill="none"/>
<g fill="#37a9e2">
<rect x="359.3" y="23.8" width="62" height="4.89"/>
</g>
<g fill="#c5112e">
</g>
<path d="M363.85,23.8L359.3,28.44M374.38,23.8L369.59,28.69M384.91,23.8L380.12,28.69M395.44,23.8L390.65,28.69M405.97,23.8L401.18,28.69M416.5,23.8L411.71,28.69" stroke="#061c3b" stroke-width="1.15" fill="none"/>
<path d="M48.88,23.8H421.73M48.88,28.69H421.73M48.88,33.57H359.73M48.88,38.46H359.73M48.88,43.35H359.73M48.88,48.23H359.73M48.88,53.12H359.73M48.88,58.01H359.73M48.88,62.9H359.73M48.88,67.78H297.73M48.88,72.67H173.73M48.88,77.56H359.73M48.88,82.44H359.73M48.88,87.33H359.73M48.88,92.22H359.73M48.88,97.1H359.73M48.88,101.99H359.73M48.88,106.88H359.73M48.88,111.77H359.73M48.88,116.65H359.73M48.88,121.54H359.73M48.88,126.43H359.73M48.88,131.31H359.73M48.88,136.2H359.73M48.88,141.09H359.73M48.88,145.97H359.73M48.88,150.86H359.73M48.88,155.75H359.73M48.88,160.64H359.73M48.88,165.52H359.73M48.88,170.41H359.73M48.88,175.3H359.73M48.88,180.18H359.73M48.88,185.07H359.73M48.88,189.96H359.73M48.88,194.84H359.73M48.88,199.73H359.73M48.88,204.62H297.73M48.88,209.51H235.73M48.88,214.39H173.73M48.88,219.28H173.73M48.88,224.17H359.73M48.88,229.05H359.73M48.88,233.94H359.73M48.88,238.83H359.73M48.88,243.72H359.73M48.88,248.6H359.73M48.88,253.49H359.73M48.88,258.38H359.73M48.88,263.26H359.73M48.88,268.15H359.73M48.88,273.04H359.73M48.88,277.92H359.73M48.88,282.81H359.73M48.88,287.7H359.73M48.88,292.58H359.73M48.88,297.47H359.73M48.88,302.36H359.73M48.88,307.25H359.73M48.88,312.13H359.73M48.88,317.02H359.73M48.88,321.91H359.73M48.88,326.79H359.73M48.88,331.68H359.73M48.88,336.57H359.73M48.88,341.45H359.73M48.88,346.34H359.73M48.88,351.23H359.73M48.88,356.12H359.73M48.88,361H359.73M48.88,365.89H359.73M48.88,370.78H359.73M48.88,375.66H359.73M48.88,380.55H359.73M48.88,385.44H359.73M48.88,390.32H359.73M48.88,395.21H359.73M48.88,400.1H359.73M48.88,404.99H359.73M48.88,409.87H359.73M48.88,414.76H359.73M48.88,419.65H359.73M48.88,424.53H359.73M48.88,429.42H359.73M48.88,434.31H359.73M48.88,439.19H359.73M48.88,444.08H359.73M48.88,448.97H359.73M48.88,453.86H359.73M48.88,458.74H359.73M48.88,463.63H359.73M48.88,468.52H359.73M48.88,473.4H359.73M48.88,478.29H359.73M48.88,483.18H359.73M48.88,488.06H359.73M48.88,492.95H359.73M48.88,497.84H359.73M48.88,502.73H359.73M48.88,507.61H359.73M48.88,512.5H359.73M48.88,517.39H359.73M48.88,522.27H359.73M48.88,527.16H359.73M48.88,532.05H359.73M48.88,536.93H359.73M48.88,541.82H359.73M48.88,546.71H359.73M48.88,551.6H359.73M48.88,556.48H359.73M48.88,561.37H359.73M48.88,566.26H359.73M48.88,571.14H359.73M48.88,576.03H359.73M48.88,580.92H359.73M48.88,585.8H359.73M48.88,590.69H359.73M48.88,595.58H297.73M48.88,600.47H297.73M48.88,605.35H297.73M48.88,610.24H297.73M48.88,615.13H297.73M48.88,620.01H297.73M48.88,624.9H297.73M48.88,629.79H297.73M48.88,634.67H297.73M48.88,639.56H235.73M48.88,644.45H235.73M48.88,649.34H235.73M48.88,654.22H173.73M48.88,659.11H173.73M48.88,664H173.73M48.88,668.88H359.73M48.88,673.77H359.73M48.88,678.66H359.73M48.88,683.54H359.73M110.88,688.43H235.73" stroke="#061c3b" stroke-width="1.2" fill="none"/>
<path d="M49.3,23.8V683.54M111.3,23.8V688.43M173.3,23.8V72.67M173.3,77.56V219.28M173.3,224.17V664M173.3,668.88V688.43M235.3,23.8V67.78M235.3,77.56V209.51M235.3,224.17V649.34M235.3,668.88V688.43M297.3,23.8V67.78M297.3,77.56V204.62M297.3,224.17V634.67M297.3,668.88V683.54M359.3,23.8V62.9M359.3,77.56V199.73M359.3,224.17V590.69M359.3,668.88V683.54M421.3,23.8V28.69" stroke="#061c3b" stroke-width="0.85" fill="none"/>
<g stroke="#111" stroke-width="1.4" fill="none">
<path d="M46.5,23.2 V688.68 H423.8"/>
</g>
<g stroke="#111" stroke-width="0.9" fill="none">
<path d="M43.1,671.13 H46.5"/>
<path d="M43.1,651.58 H46.5"/>
<path d="M43.1,632.03 H46.5"/>
<path d="M43.1,612.48 H46.5"/>
<path d="M43.1,592.94 H46.5"/>
<path d="M43.1,573.39 H46.5"/>
<path d="M43.1,553.84 H46.5"/>
<path d="M43.1,534.29 H46.5"/>
<path d="M43.1,514.74 H46.5"/>
<path d="M43.1,495.2 H46.5"/>
<path d="M43.1,475.65 H46.5"/>
<path d="M43.1,456.1 H46.5"/>
<path d="M43.1,436.55 H46.5"/>
<path d="M43.1,417 H46.5"/>
<path d="M43.1,397.46 H46.5"/>
<path d="M43.1,377.91 H46.5"/>
<path d="M43.1,358.36 H46.5"/>
<path d="M43.1,338.81 H46.5"/>
<path d="M43.1,319.26 H46.5"/>
<path d="M43.1,299.72 H46.5"/>
<path d="M43.1,280.17 H46.5"/>
<path d="M43.1,260.62 H46.5"/>
<path d="M43.1,241.07 H46.5"/>
<path d="M43.1,221.52 H46.5"/>
<path d="M43.1,201.98 H46.5"/>
<path d="M43.1,182.43 H46.5"/>
<path d="M43.1,162.88 H46.5"/>
<path d="M43.1,143.33 H46.5"/>
<path d="M43.1,123.78 H46.5"/>
<path d="M43.1,104.24 H46.5"/>
<path d="M43.1,84.69 H46.5"/>
<path d="M43.1,65.14 H46.5"/>
<path d="M43.1,45.59 H46.5"/>
<path d="M43.1,26.04 H46.5"/>
<path d="M80.3,688.43 V692.03"/>
<path d="M142.3,688.43 V692.03"/>
<path d="M204.3,688.43 V692.03"/>
<path d="M266.3,688.43 V692.03"/>
<path d="M328.3,688.43 V692.03"/>
<path d="M390.3,688.43 V692.03"/>
</g>
<g font-size="8.5" text-anchor="end">
<text x="38.8" y="673.93">4</text>
<text x="38.8" y="654.38">8</text>
<text x="38.8" y="634.83">12</text>
<text x="38.8" y="615.28">16</text>
<text x="38.8" y="595.74">20</text>
<text x="38.8" y="576.19">24</text>
<text x="38.8" y="556.64">28</text>
<text x="38.8" y="537.09">32</text>
<text x="38.8" y="517.54">36</text>
<text x="38.8" y="498">40</text>
<text x="38.8" y="478.45">44</text>
<text x="38.8" y="458.9">48</text>
<text x="38.8" y="439.35">52</text>
<text x="38.8" y="419.8">56</text>
<text x="38.8" y="400.26">60</text>
<text x="38.8" y="380.71">64</text>
<text x="38.8" y="361.16">68</text>
<text x="38.8" y="341.61">72</text>
<text x="38.8" y="322.06">76</text>
<text x="38.8" y="302.52">80</text>
<text x="38.8" y="282.97">84</text>
<text x="38.8" y="263.42">88</text>
<text x="38.8" y="243.87">92</text>
<text x="38.8" y="224.32">96</text>
<text x="38.8" y="204.78">100</text>
<text x="38.8" y="185.23">104</text>
<text x="38.8" y="165.68">108</text>
<text x="38.8" y="146.13">112</text>
<text x="38.8" y="126.58">116</text>
<text x="38.8" y="107.04">120</text>
<text x="38.8" y="87.49">124</text>
<text x="38.8" y="67.94">128</text>
<text x="38.8" y="48.39">132</text>
<text x="38.8" y="28.84">136</text>
</g>
<g font-size="8.5" text-anchor="middle">
<text x="80.3" y="703.3">1</text>
<text x="142.3" y="703.3">2</text>
<text x="204.3" y="703.3">3</text>
<text x="266.3" y="703.3">4</text>
<text x="328.3" y="703.3">5</text>
<text x="390.3" y="703.3">6</text>
</g>
<text x="235" y="17" font-size="10.3" text-anchor="middle">TLS by Patient at Each Venetoclax Dose</text>
<text transform="translate(235.3,718.7) scale(0.705,1)" font-size="10.5" text-anchor="middle">Venetoclax dosing escalation</text>
<text transform="translate(17.3,356.3) rotate(-90) scale(0.705,1)" font-size="10.5" text-anchor="middle">Patient number</text>
<text transform="translate(394.8,50.4) rotate(90)" font-size="8.6" text-anchor="middle">High Risk</text>
<text transform="translate(394.8,150.5) rotate(90)" font-size="8.6" text-anchor="middle">Medium Risk</text>
<text transform="translate(394.8,446.3) rotate(90)" font-size="8.6" text-anchor="middle">Low Risk</text>
<text transform="translate(394.8,668.8) rotate(90)" font-size="8.6" text-anchor="middle">Unknown</text>
<g font-size="9">
<text transform="translate(434.6,306.3) scale(0.89,1)">TLS Event:</text>
<rect x="434.7" y="313" width="9.9" height="9.9" fill="#37a9e2" stroke="#444" stroke-width="0.7"/>
<text transform="translate(448.5,320.55) scale(0.89,1)">No TLS</text>
<rect x="434.7" y="326.85" width="9.9" height="9.9" fill="#c5112e" stroke="#444" stroke-width="0.7"/>
<text transform="translate(448.5,334.4) scale(0.89,1)">TLS</text>
<rect x="434.7" y="340.7" width="9.9" height="9.9" fill="#fff" stroke="#444" stroke-width="0.7"/>
<text transform="translate(448.5,348.25) scale(0.89,1)">NA</text>
<text transform="translate(434.6,368.5) scale(0.89,1)">Dose Escalation Site:</text>
<rect x="434.7" y="374.15" width="9.9" height="9.9" fill="#dedfe2" stroke="#444" stroke-width="0.7"/>
<text transform="translate(448.5,381.7) scale(0.89,1)">OP</text>
<rect x="434.7" y="388" width="9.9" height="9.9" fill="#e9e9eb" stroke="#444" stroke-width="0.7"/>
<rect x="434.7" y="388" width="9.9" height="9.9" fill="url(#hl)" stroke="#444" stroke-width="0.7"/>
<text transform="translate(448.5,395.55) scale(0.89,1)">IP</text>
<rect x="434.7" y="401.85" width="9.9" height="9.9" fill="#fff" stroke="#444" stroke-width="0.7"/>
<text transform="translate(448.5,409.4) scale(0.89,1)">NA</text>
</g>
<g fill="#3a3a3a"><rect x="0" y="0" width="520" height="0.9"/><rect x="0" y="0" width="0.9" height="729"/><rect x="518.3" y="0" width="1.7" height="729"/><rect x="0" y="727.5" width="520" height="1.5"/></g>
</svg>
</body></html>
